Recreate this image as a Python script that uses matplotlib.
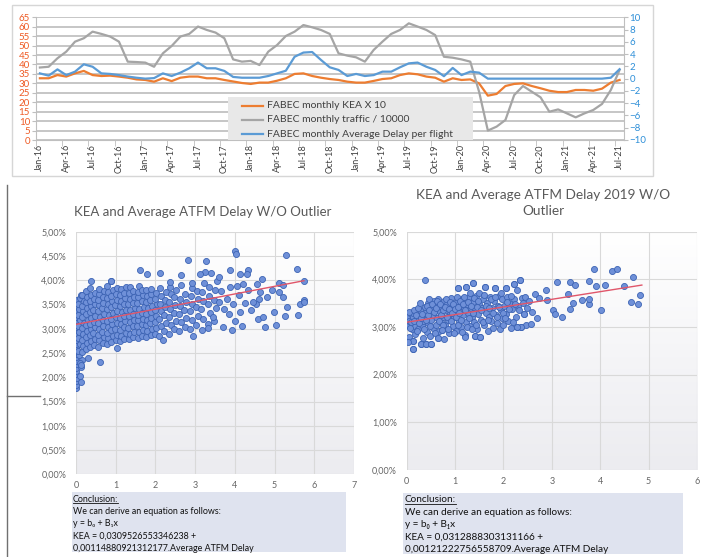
import numpy as np
import matplotlib
matplotlib.use('Agg')
import matplotlib.pyplot as plt
from matplotlib.patches import Rectangle
from matplotlib.lines import Line2D
from matplotlib.colors import LinearSegmentedColormap

plt.rcParams['font.family'] = ['Lato', 'DejaVu Sans']

# --- top chart: monthly series Jan-16 .. Jul-21 ---
tick_labels = ['Jan-16', 'Apr-16', 'Jul-16', 'Oct-16', 'Jan-17', 'Apr-17', 'Jul-17', 'Oct-17',
               'Jan-18', 'Apr-18', 'Jul-18', 'Oct-18', 'Jan-19', 'Apr-19', 'Jul-19', 'Oct-19',
               'Jan-20', 'Apr-20', 'Jul-20', 'Oct-20', 'Jan-21', 'Apr-21', 'Jul-21']
kea10 = [32.7, 32.7, 34.4, 33.6, 35.3, 36.6, 34.4, 33.9, 34.1, 33.6, 33.0, 32.1, 31.8, 30.9,
         32.7, 31.2, 33.0, 33.6, 33.6, 32.7, 32.7, 31.8, 31.0, 30.2, 29.7, 30.4, 30.4, 31.4,
         32.7, 35.0, 35.3, 33.9, 33.0, 32.3, 31.8, 30.9, 30.4, 30.4, 31.3, 32.3, 32.7, 34.4,
         35.3, 34.8, 33.6, 33.0, 30.9, 32.7, 31.8, 32.1, 30.0, 23.5, 24.4, 28.6, 29.7, 30.0,
         28.6, 27.4, 26.1, 25.4, 25.4, 26.5, 26.5, 26.1, 27.2, 30.4, 31.8]
traffic = [38.4, 38.8, 43.3, 46.8, 52.1, 53.9, 57.4, 56.2, 54.8, 52.1, 41.5, 41.3, 41.0, 38.8,
           45.9, 49.8, 54.8, 56.2, 60.1, 58.3, 56.9, 53.9, 42.7, 41.5, 41.9, 39.7, 46.8, 50.3,
           55.1, 57.4, 60.9, 59.7, 58.3, 56.2, 45.9, 44.7, 43.8, 41.5, 47.7, 52.1, 56.2, 58.3,
           61.8, 60.1, 58.3, 55.6, 44.1, 43.6, 42.7, 41.5, 25.6, 5.0, 7.1, 10.6, 23.8, 28.6,
           25.6, 22.6, 15.0, 16.2, 14.1, 12.0, 14.1, 15.9, 19.1, 26.5, 37.1]
delay = [0.86, 0.49, 1.51, 0.58, 1.14, 2.34, 1.94, 0.86, 0.77, 0.58, 0.34, 0.15, 0.00, 0.09,
         0.86, 0.43, 0.98, 1.69, 2.62, 1.69, 1.69, 1.26, 0.28, 0.15, 0.15, 0.15, 0.43, 0.86,
         1.29, 3.57, 4.25, 4.34, 3.05, 1.85, 1.42, 0.43, 0.77, 0.43, 0.58, 1.14, 1.14, 1.85,
         2.49, 2.62, 1.94, 1.42, 0.40, 1.75, 0.58, 1.14, 0.98, 0.0, 0.0, 0.0, 0.0, 0.0,
         0.0, 0.0, 0.0, 0.0, 0.0, 0.0, 0.0, 0.0, 0.0, 0.15, 1.54]
legend_labels = ['FABEC monthly KEA X 10', 'FABEC monthly traffic / 10000',
                 'FABEC monthly Average Delay per flight']

# --- scatter 1: all data (delay, KEA %) ---
left_pts = [
    (0.00, 1.78), (0.01, 1.85), (0.00, 1.92), (0.02, 1.99), (0.00, 2.06), (0.01, 2.13), (0.00, 2.20),
    (0.02, 2.27), (0.00, 2.34), (0.01, 2.41), (0.00, 2.48), (0.02, 2.55), (0.00, 2.62), (0.01, 2.69),
    (0.00, 2.76), (0.02, 2.83), (0.00, 2.90), (0.01, 2.97), (0.00, 3.04), (0.02, 3.11), (0.00, 3.18),
    (0.01, 3.25), (0.00, 3.32), (0.02, 3.39), (0.00, 3.46), (0.01, 3.53), (0.03, 3.60),
    (0.12, 1.90), (0.09, 2.02), (0.13, 2.22), (0.16, 2.36), (0.10, 2.30), (0.08, 2.45),
    (0.06, 2.55), (0.09, 2.68), (0.05, 2.80), (0.08, 2.93), (0.06, 3.05), (0.09, 3.17), (0.05, 3.29),
    (0.08, 3.41), (0.06, 3.52), (0.09, 3.63), (0.12, 3.70),
    (0.15, 2.52), (0.18, 2.64), (0.14, 2.77), (0.17, 2.89), (0.15, 3.01), (0.19, 3.12), (0.14, 3.24),
    (0.17, 3.36), (0.15, 3.47), (0.19, 3.58), (0.16, 3.69),
    (0.25, 2.58), (0.28, 2.71), (0.24, 2.83), (0.27, 2.95), (0.25, 3.07), (0.29, 3.19), (0.24, 3.31),
    (0.27, 3.43), (0.25, 3.55), (0.28, 3.66), (0.26, 3.78),
    (0.35, 2.62), (0.38, 2.75), (0.34, 2.87), (0.37, 2.99), (0.35, 3.10), (0.39, 3.22), (0.34, 3.34),
    (0.37, 3.46), (0.35, 3.57), (0.38, 3.69), (0.36, 3.84),
    (0.45, 2.66), (0.48, 2.79), (0.44, 2.91), (0.47, 3.03), (0.45, 3.14), (0.49, 3.26), (0.44, 3.38),
    (0.47, 3.50), (0.45, 3.61), (0.48, 3.73),
    (0.56, 2.63), (0.59, 2.76), (0.55, 2.88), (0.58, 3.00), (0.56, 3.12), (0.60, 3.24), (0.55, 3.36),
    (0.58, 3.48), (0.56, 3.59), (0.59, 3.71), (0.57, 3.82),
    (0.67, 2.70), (0.70, 2.82), (0.66, 2.94), (0.69, 3.06), (0.67, 3.18), (0.71, 3.30), (0.66, 3.42),
    (0.69, 3.54), (0.67, 3.65), (0.70, 3.77),
    (0.78, 2.68), (0.81, 2.80), (0.77, 2.92), (0.80, 3.04), (0.78, 3.16), (0.82, 3.28), (0.77, 3.40),
    (0.80, 3.52), (0.78, 3.63), (0.81, 3.75), (0.79, 3.88),
    (0.89, 2.72), (0.92, 2.85), (0.88, 2.97), (0.91, 3.09), (0.89, 3.21), (0.93, 3.33), (0.88, 3.45),
    (0.91, 3.57), (0.89, 3.68), (0.92, 3.80), (0.89, 3.99),
    (1.00, 2.76), (1.03, 2.88), (0.99, 3.00), (1.02, 3.12), (1.00, 3.24), (1.04, 3.36), (0.99, 3.48),
    (1.02, 3.60), (1.00, 3.71), (1.03, 3.83),
    (1.11, 2.74), (1.14, 2.86), (1.10, 2.98), (1.13, 3.10), (1.11, 3.22), (1.15, 3.34), (1.10, 3.46),
    (1.13, 3.58), (1.11, 3.69), (1.14, 3.81),
    (1.22, 2.79), (1.25, 2.91), (1.21, 3.03), (1.24, 3.15), (1.22, 3.27), (1.26, 3.39), (1.21, 3.51),
    (1.24, 3.63), (1.22, 3.74), (1.25, 3.86),
    (1.33, 2.78), (1.36, 2.90), (1.32, 3.02), (1.35, 3.14), (1.33, 3.26), (1.37, 3.38), (1.32, 3.50),
    (1.35, 3.62), (1.33, 3.73), (1.36, 3.85),
    (1.44, 2.82), (1.47, 2.94), (1.43, 3.06), (1.46, 3.18), (1.44, 3.30), (1.48, 3.42), (1.43, 3.54),
    (1.46, 3.66), (1.44, 3.77),
    (1.55, 2.80), (1.58, 2.93), (1.54, 3.05), (1.57, 3.17), (1.55, 3.29), (1.59, 3.41), (1.54, 3.53),
    (1.57, 3.65), (1.55, 3.76), (1.58, 3.88),
    (1.66, 2.85), (1.69, 2.97), (1.65, 3.09), (1.68, 3.21), (1.66, 3.33), (1.70, 3.45), (1.65, 3.57),
    (1.68, 3.69), (1.66, 3.80),
    (1.77, 2.83), (1.80, 2.95), (1.76, 3.07), (1.79, 3.19), (1.77, 3.31), (1.81, 3.43), (1.76, 3.55),
    (1.79, 3.67), (1.77, 3.79),
    (1.88, 2.87), (1.91, 2.99), (1.87, 3.11), (1.90, 3.23), (1.88, 3.35), (1.92, 3.47), (1.87, 3.59),
    (1.90, 3.71), (1.88, 3.82),
    (1.99, 2.90), (2.02, 3.02), (1.98, 3.14), (2.01, 3.26), (1.99, 3.38), (2.03, 3.50), (1.98, 3.62),
    (2.01, 3.74),
    (2.10, 2.86), (2.14, 3.05), (2.09, 3.20), (2.13, 3.36), (2.11, 3.52), (2.15, 3.68), (2.12, 3.83),
    (2.22, 2.95), (2.26, 3.12), (2.21, 3.28), (2.25, 3.44), (2.23, 3.60), (2.27, 3.76),
    (2.34, 2.90), (2.38, 3.08), (2.33, 3.24), (2.37, 3.40), (2.35, 3.56), (2.39, 3.72), (2.36, 3.86),
    (2.47, 3.00), (2.51, 3.16), (2.46, 3.33), (2.50, 3.49), (2.48, 3.65), (2.52, 3.80),
    (2.60, 2.96), (2.64, 3.14), (2.59, 3.30), (2.63, 3.47), (2.61, 3.62), (2.65, 3.90),
    (2.74, 3.04), (2.78, 3.22), (2.73, 3.38), (2.77, 3.55), (2.75, 3.72),
    (2.88, 3.00), (2.92, 3.18), (2.87, 3.36), (2.91, 3.52), (2.89, 3.68), (2.93, 3.84),
    (3.03, 3.08), (3.07, 3.26), (3.02, 3.44), (3.06, 3.62), (3.04, 3.78),
    (3.17, 2.98), (3.21, 3.20), (3.16, 3.40), (3.20, 3.58), (3.18, 3.75), (3.22, 3.95),
    (3.33, 3.10), (3.37, 3.32), (3.32, 3.50), (3.36, 3.68), (3.34, 3.86),
    (3.48, 3.16), (3.52, 3.42), (3.47, 3.60), (3.51, 3.80), (3.56, 3.98),
    (4.01, 4.61), (4.03, 4.54), (5.29, 4.52), (2.83, 4.42), (3.28, 4.40), (5.56, 4.24), (1.60, 4.22),
    (1.78, 4.13), (2.12, 4.14), (3.25, 4.17), (3.39, 4.14), (3.88, 4.21), (4.32, 4.21), (4.12, 4.13),
    (4.30, 4.13), (2.65, 4.11), (5.74, 3.99), (4.68, 4.02), (0.37, 3.98), (0.89, 3.99), (3.61, 4.06),
    (3.12, 4.12), (2.37, 3.97), (5.10, 3.94), (2.91, 3.94), (5.22, 3.90), (4.55, 3.92), (4.05, 3.88),
    (3.88, 3.85), (4.34, 3.80), (4.93, 3.80), (5.12, 3.76), (4.64, 3.76), (4.80, 3.66), (4.62, 3.61),
    (5.22, 3.66), (5.73, 3.59), (5.64, 3.51), (5.74, 3.56), (5.32, 3.44), (4.99, 3.35), (5.26, 3.26),
    (5.58, 3.28), (5.04, 3.08), (4.76, 3.04), (4.59, 3.21), (4.72, 3.25), (4.53, 3.52), (4.45, 3.56),
    (4.01, 3.15), (3.92, 2.97), (4.12, 3.35), (4.26, 3.54), (3.70, 3.04), (3.46, 3.25), (3.33, 3.01),
    (2.94, 2.85), (2.18, 2.77), (1.02, 2.60), (0.60, 2.32), (0.29, 2.39), (0.12, 2.25),
    (3.72, 3.40), (3.80, 3.62), (3.95, 3.50), (4.10, 3.70), (3.66, 3.78), (4.20, 3.92), (3.85, 3.30),
    (4.40, 3.38), (3.60, 3.55), (4.18, 3.05),
]

# --- scatter 2: 2019 data (delay, KEA %) ---
right_pts = [
    (0.02, 2.72), (0.05, 2.80), (0.03, 3.05), (0.06, 3.15), (0.02, 3.20), (0.08, 3.27), (0.05, 3.12),
    (0.10, 2.95), (0.12, 3.22), (0.14, 3.30), (0.13, 2.71), (0.13, 2.54), (0.18, 2.85), (0.20, 3.10),
    (0.22, 3.18), (0.17, 3.02), (0.25, 3.25), (0.24, 2.95), (0.28, 3.35), (0.30, 2.64), (0.33, 2.78),
    (0.31, 3.05), (0.35, 3.20), (0.37, 3.42), (0.34, 3.12), (0.40, 2.64), (0.42, 2.90), (0.38, 3.30),
    (0.44, 3.50), (0.45, 3.08), (0.48, 2.82), (0.51, 2.64), (0.50, 3.15), (0.52, 3.38), (0.55, 3.25),
    (0.54, 2.98), (0.58, 3.45), (0.60, 3.05), (0.57, 3.55), (0.62, 3.18), (0.64, 2.78), (0.66, 2.92),
    (0.68, 3.32), (0.65, 3.58), (0.70, 3.10), (0.72, 3.42), (0.73, 2.94), (0.75, 3.22), (0.77, 3.55),
    (0.78, 2.75), (0.80, 3.05), (0.82, 3.36), (0.84, 3.48), (0.86, 3.15), (0.88, 2.88), (0.90, 3.28),
    (0.92, 3.60), (0.94, 3.40), (0.96, 3.02), (0.98, 3.20), (1.00, 3.50), (1.02, 2.92), (1.04, 3.32),
    (1.06, 3.82), (1.08, 3.12), (1.10, 3.44), (1.12, 3.00), (1.14, 3.58), (1.16, 3.25), (1.18, 3.38),
    (1.20, 2.84), (1.22, 3.10), (1.24, 3.48), (1.23, 3.84), (1.26, 3.30), (1.28, 3.62), (1.30, 3.02),
    (1.32, 3.40), (1.34, 3.20), (1.36, 3.52), (1.38, 3.92), (1.40, 3.10), (1.41, 2.82), (1.42, 3.35),
    (1.44, 3.65), (1.46, 2.95), (1.48, 3.28), (1.50, 3.48), (1.52, 2.80), (1.54, 3.15), (1.56, 3.40),
    (1.58, 3.58), (1.60, 3.05), (1.62, 3.85), (1.64, 3.30), (1.66, 3.50), (1.68, 2.92), (1.70, 3.22),
    (1.72, 3.62), (1.74, 3.12), (1.76, 3.40), (1.78, 2.98), (1.80, 3.55), (1.82, 3.82), (1.84, 3.25),
    (1.86, 3.08), (1.88, 3.45), (1.90, 3.65), (1.92, 2.95), (1.94, 3.35), (1.96, 3.18), (1.98, 3.58),
    (2.00, 3.05), (2.02, 3.45), (2.05, 3.82), (2.06, 3.28), (2.08, 3.62), (2.10, 3.12), (2.12, 3.50),
    (2.15, 2.98), (2.18, 3.38), (2.21, 3.91), (2.22, 3.58), (2.25, 3.20), (2.28, 2.99), (2.30, 3.45),
    (2.34, 3.98), (2.36, 2.99), (2.38, 3.60), (2.42, 3.27),
    (0.04, 3.32), (0.07, 2.98), (0.09, 3.10), (0.15, 3.35), (0.16, 3.12), (0.19, 3.25), (0.21, 2.92),
    (0.23, 3.40), (0.26, 3.08), (0.27, 3.50), (0.29, 3.18), (0.32, 3.28), (0.36, 2.96), (0.39, 3.15),
    (0.41, 3.45), (0.43, 3.25), (0.46, 3.35), (0.47, 3.58), (0.49, 3.02), (0.53, 3.48), (0.56, 3.32),
    (0.59, 2.88), (0.61, 3.40), (0.63, 3.55), (0.67, 3.12), (0.69, 3.48), (0.71, 3.25), (0.74, 3.35),
    (0.76, 3.05), (0.79, 3.42), (0.81, 3.58), (0.83, 3.22), (0.85, 2.95), (0.87, 3.38), (0.89, 3.52),
    (0.91, 3.12), (0.93, 3.30), (0.95, 3.48), (0.97, 2.88), (0.99, 3.38), (1.01, 3.20), (1.03, 3.62),
    (1.05, 3.05), (1.07, 3.42), (1.09, 3.30), (1.11, 3.55), (1.13, 3.15), (1.15, 2.90), (1.17, 3.48),
    (1.19, 3.62), (1.21, 3.35), (1.25, 3.00), (1.27, 3.52), (1.29, 3.18), (1.31, 3.72), (1.33, 3.45),
    (1.35, 2.95), (1.37, 3.30), (1.39, 3.60), (1.43, 3.05), (1.45, 3.42), (1.47, 3.55), (1.49, 3.72),
    (1.53, 3.35), (1.57, 3.10), (1.59, 3.68), (1.63, 3.45), (1.67, 3.15), (1.71, 3.40), (1.75, 3.58),
    (1.79, 3.30), (1.83, 3.62), (1.87, 3.20), (1.91, 3.42), (1.95, 3.72), (1.99, 3.30), (2.03, 3.18),
    (2.07, 3.52), (2.11, 3.38), (2.16, 3.65), (2.20, 3.10), (2.24, 3.48), (2.27, 3.78), (2.32, 3.35),
    (2.40, 3.50), (2.44, 3.62), (2.48, 3.40), (2.52, 3.55), (2.46, 3.05),
    (0.37, 3.99), (1.38, 3.92), (1.23, 3.84), (1.62, 3.85), (1.82, 3.82), (2.05, 3.82), (2.21, 3.91),
    (2.34, 3.98), (1.06, 3.82), (3.10, 3.94), (3.37, 3.94), (3.47, 3.89), (3.77, 3.96), (3.87, 4.22),
    (3.91, 3.87), (4.09, 3.89), (4.24, 4.18), (4.34, 4.22), (4.50, 3.87), (4.68, 4.04), (4.63, 3.52),
    (4.79, 3.49), (4.83, 3.68), (4.01, 3.36), (3.76, 3.49), (3.77, 3.59), (3.62, 3.56), (3.33, 3.70),
    (3.43, 3.50), (3.37, 3.38), (3.20, 3.22), (3.03, 3.36), (3.06, 3.27), (2.88, 3.77), (2.91, 3.56),
    (2.69, 3.19), (2.56, 3.06), (2.66, 3.70), (2.59, 3.31), (2.42, 3.27), (2.36, 2.99), (2.28, 2.99),
    (2.73, 3.61), (1.41, 2.82), (1.21, 2.80), (1.52, 2.80), (0.13, 2.71), (0.02, 2.68), (0.13, 2.54),
    (0.30, 2.64), (0.40, 2.64), (0.51, 2.64), (0.64, 2.78), (0.73, 2.94),
]

# trend lines as drawn in the charts (delay, KEA %)
left_trend_x, left_trend_y = [0.0, 5.74], [3.09, 3.99]
right_trend_x, right_trend_y = [0.0, 4.86], [3.10, 3.88]

left_eq = ['Conclusion:', 'We can derive an equation as follows:', 'y = b\u2080 + B\u2081x',
           'KEA = 0,0309526553346238 +', '0,00114880921312177.Average ATFM Delay']
right_eq = ['Conclusion:', 'We can derive an equation as follows:', 'y = b\u2080 + B\u2081x',
            'KEA = 0,0312888303131166 +', '0,00121222756558709.Average ATFM Delay']

W, H = 702, 557
fig = plt.figure(figsize=(W / 100, H / 100), dpi=100)


def box(l, t, r, b):
    return [l / W, 1 - b / H, (r - l) / W, (b - t) / H]


def fig_rect(l, t, r, b, **kw):
    fig.patches.append(Rectangle((l / W, 1 - b / H), (r - l) / W, (b - t) / H,
                                 transform=fig.transFigure, **kw))


def fig_line(xs, ys, **kw):
    fig.lines.append(Line2D([x / W for x in xs], [1 - y / H for y in ys],
                            transform=fig.transFigure, **kw))


# ---------------- top chart ----------------
fig_rect(12, 5, 653, 176, fill=False, ec='#d6d6d6', lw=1, zorder=1)

ax = fig.add_axes(box(35.5, 17.3, 624, 140))
months = np.arange(len(kea10))
ax.set_xlim(-0.5, len(months) - 0.5)
ax.set_ylim(0, 65)
for v in range(0, 66, 5):
    ax.axhline(v, color='#c6c6c6', lw=1.4, zorder=0)
ax.plot(months, kea10, color='#ed7d31', lw=1.6, zorder=3)
ax.plot(months, traffic, color='#a5a5a5', lw=1.6, zorder=3)
ax.set_yticks(range(0, 66, 5))
ax.tick_params(axis='y', labelcolor='#ee5a24', labelsize=7, length=3, color='#bfbfbf', pad=1)
ax.set_xticks(months[::3])
ax.set_xticklabels(tick_labels, rotation=90, fontsize=6.5, color='#404040')
ax.tick_params(axis='x', length=0, pad=3)
ax.set_xticks(np.arange(-0.5, len(months), 3), minor=True)
ax.tick_params(axis='x', which='minor', length=4, color='#bfbfbf')
for s in ['top', 'right']:
    ax.spines[s].set_visible(False)
for s in ['left', 'bottom']:
    ax.spines[s].set_color('#bfbfbf')

ax2 = ax.twinx()
ax2.set_ylim(-10, 10)
ax2.plot(months, delay, color='#5b9bd5', lw=1.6, zorder=3)
ax2.set_yticks(range(-10, 11, 2))
ax2.tick_params(axis='y', labelcolor='#2e8fd8', labelsize=7, length=3, color='#bfbfbf', pad=1)
for s in ['top', 'left', 'bottom']:
    ax2.spines[s].set_visible(False)
ax2.spines['right'].set_color('#bfbfbf')

# legend box
fig_rect(228, 97, 473, 140, color='#e8e8e8', lw=0, zorder=1)
for i, (lab, col) in enumerate(zip(legend_labels, ['#ed7d31', '#a5a5a5', '#5b9bd5'])):
    yy = 105.5 + i * 14.3
    fig_line([242, 263], [yy, yy], color=col, lw=1.6, zorder=2)
    fig.text(267 / W, 1 - yy / H, lab, fontsize=7.5, color='#404040', va='center', zorder=3)

# slide decoration lines
fig_line([7, 7], [185, 557], color='#707070', lw=1)
fig_line([7, 40], [396, 396], color='#707070', lw=1)

grad_cmap = LinearSegmentedColormap.from_list('bg', ['#ffffff', '#ececf0'])


def scatter_panel(rect, pts, xmax, ystep, tx, ty):
    a = fig.add_axes(box(*rect))
    xs = [p[0] for p in pts]
    ys = [p[1] for p in pts]
    a.imshow(np.linspace(0, 1, 100).reshape(-1, 1), cmap=grad_cmap, extent=[0, xmax, 0, 5],
             aspect='auto', zorder=0)
    a.set_axisbelow(True)
    a.grid(True, color='#d9d9d9', lw=0.8)
    a.scatter(xs, ys, s=19, c='#6f90d8', edgecolors='#3c63b4', linewidths=0.6, zorder=3)
    a.plot(tx, ty, color='#e0566a', lw=1, zorder=4)
    a.set_xlim(0, xmax)
    a.set_ylim(0, 5)
    yt = np.arange(0, 5.001, ystep)
    a.set_yticks(yt)
    a.set_yticklabels([f'{v:.2f}%'.replace('.', ',') for v in yt])
    a.set_xticks(range(0, xmax + 1))
    a.tick_params(axis='both', length=0, labelsize=6.5, labelcolor='#666666')
    a.tick_params(axis='y', pad=7)
    a.tick_params(axis='x', pad=5)
    for s in a.spines.values():
        s.set_visible(False)
    return a


scatter_panel((76, 231.7, 354, 474.3), left_pts, 7, 0.5, left_trend_x, left_trend_y)
scatter_panel((406.7, 231.7, 697, 470), right_pts, 6, 1.0, right_trend_x, right_trend_y)

fig.text(203 / W, 1 - 212 / H, 'KEA and Average ATFM Delay W/O Outlier', fontsize=9.5,
         color='#595959', ha='center', va='center')
fig.text(543 / W, 1 - 195 / H, 'KEA and Average ATFM Delay 2019 W/O', fontsize=9.8,
         color='#595959', ha='center', va='center')
fig.text(543 / W, 1 - 211.5 / H, 'Outlier', fontsize=9.8, color='#595959', ha='center', va='center')


def conclusion(l, t, r, b, tx, lines, size):
    fig_rect(l, t, r, b, color='#dfe3ef', lw=0, zorder=1)
    texts = []
    for i, s in enumerate(lines):
        yy = t + 7 + i * 12.3
        texts.append(fig.text(tx / W, 1 - yy / H, s, fontsize=size, color='#111111',
                              va='center', zorder=3))
    return texts


tl = conclusion(72, 492, 346, 552, 73, left_eq, 6.4)
tr = conclusion(403, 493, 683, 554, 405, right_eq, 7.2)

# underline "Conclusion:"
fig.canvas.draw()
r = fig.canvas.get_renderer()
for t in (tl[0], tr[0]):
    bb = t.get_window_extent(r)
    fig.lines.append(Line2D([bb.x0 / W, bb.x1 / W], [(bb.y0 + 1) / H, (bb.y0 + 1) / H],
                            transform=fig.transFigure, color='#111111', lw=0.6))

fig.savefig('out.png', dpi=100)
